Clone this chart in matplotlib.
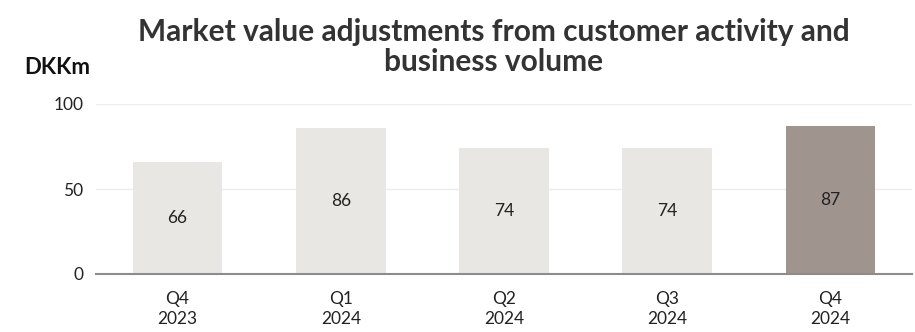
import matplotlib.pyplot as plt

quarters = ["Q4\n2023", "Q1\n2024", "Q2\n2024", "Q3\n2024", "Q4\n2024"]
values = [66, 86, 74, 74, 87]
bar_colors = ["#e9e7e3", "#e9e7e3", "#e9e7e3", "#e9e7e3", "#a0958e"]

plt.rcParams['font.family'] = ['Lato', 'DejaVu Sans']

fig = plt.figure(figsize=(9.15, 3.32), dpi=100)
ax = fig.add_axes([96 / 915, 1 - 274 / 332, 816 / 915, 170 / 332])

x = range(len(values))
ax.bar(x, values, width=0.55, color=bar_colors, zorder=2)

# value labels in the middle of each bar
for i, v in enumerate(values):
    ax.text(i, v / 2, str(v), ha='center', va='center', fontsize=12.5, color='#222222', zorder=3)

ax.set_xlim(-0.5, len(values) - 0.5)
ax.set_ylim(0, 100)
ax.set_yticks([0, 50, 100])
ax.set_xticks(list(x))
ax.set_xticklabels(quarters, fontsize=12.5, color='#222222', linespacing=1.3)
ax.tick_params(axis='y', labelsize=12.5, labelcolor='#222222', length=0, pad=9)
ax.tick_params(axis='x', length=0, pad=12)

ax.grid(axis='y', color='#ececec', linewidth=1, zorder=0)
for side in ['top', 'right', 'left']:
    ax.spines[side].set_visible(False)
ax.spines['bottom'].set_color('#8c8c8c')
ax.spines['bottom'].set_linewidth(1.5)
ax.spines['bottom'].set_zorder(4)

fig.text(494 / 915, 1 - 47 / 332, "Market value adjustments from customer activity and\nbusiness volume",
         ha='center', va='center', fontsize=21.5, fontweight='bold', color='#333333', linespacing=1.12)
fig.text(24 / 915, 1 - 67 / 332, "DKKm", ha='left', va='center', fontsize=16,
         fontweight='bold', color='#111111')

fig.savefig("out.png", dpi=100)
